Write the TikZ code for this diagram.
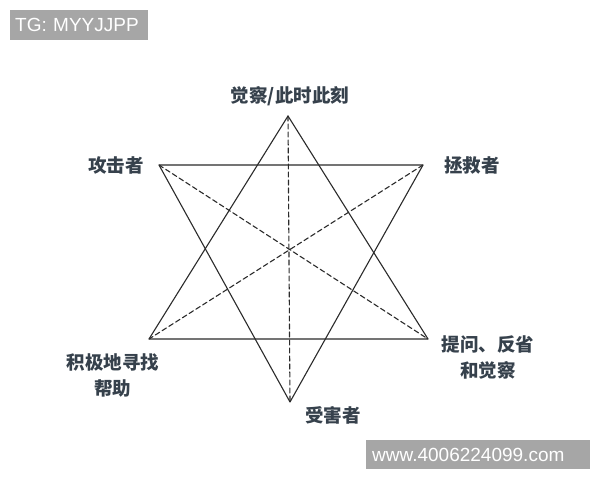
\documentclass[tikz,border=0pt]{standalone}
\usepackage{fontspec}
\setmainfont{Liberation Sans}
\newfontfamily\cjk{Noto Sans CJK SC}
\definecolor{inkline}{HTML}{2B2B2B}
\definecolor{inktext}{HTML}{36414C}
\definecolor{markgray}{HTML}{A6A6A6}
\tikzset{
	lbl/.style={font=\cjk\bfseries\fontsize{18.5}{26}\selectfont,text=inktext,inner sep=0pt,align=center},
	wmark/.style={fill=markgray,text=white,font=\fontsize{19}{22}\selectfont,inner ysep=0pt,minimum height=30pt,align=left},
	dline/.style={dash pattern=on 5pt off 3pt}
}
\begin{document}
\begin{tikzpicture}[x=1pt,y=-1pt,line join=round,line cap=round,draw=inkline]
	\useasboundingbox[fill=white] (0,0) rectangle (600,480);
	% vertices of the two triangles
	\path
	(288,116) coordinate (T)
	(149,339) coordinate (BL)
	(428,339) coordinate (BR)
	(159,165) coordinate (TL)
	(423,165) coordinate (TR)
	(290,402) coordinate (B);
	\draw[inkline,line width=1.1pt](T)--(BL)--(BR)--cycle;
	\draw[inkline,line width=1.1pt](TL)--(TR)--(B)--cycle;
	\draw[inkline,line width=1.1pt,dline](T)--(B);
	\draw[inkline,line width=1.1pt,dline](TL)--(BR);
	\draw[inkline,line width=1.1pt,dline](TR)--(BL);
	% labels
	\node[lbl] (aware) at (290,96.5) {觉察/此时此刻};
	\node[lbl] (attacker) at (116,165) {攻击者};
	\node[lbl] (rescuer) at (472,165) {拯救者};
	\node[lbl] (help) at (113,375) {积极地寻找\\帮助};
	\node[lbl] (reflect) at (488,357.5) {提问、反省\\和觉察};
	\node[lbl] (victim) at (333,415) {受害者};
	% watermarks
	\node[wmark,anchor=north west,text width=128pt,inner xsep=5pt] (tg) at (10,10) {TG: MYYJJPP};
	\node[wmark,anchor=north west,text width=212pt,inner xsep=6pt,minimum height=29pt] (site) at (366,440) {www.4006224099.com};
\end{tikzpicture}
\end{document}
